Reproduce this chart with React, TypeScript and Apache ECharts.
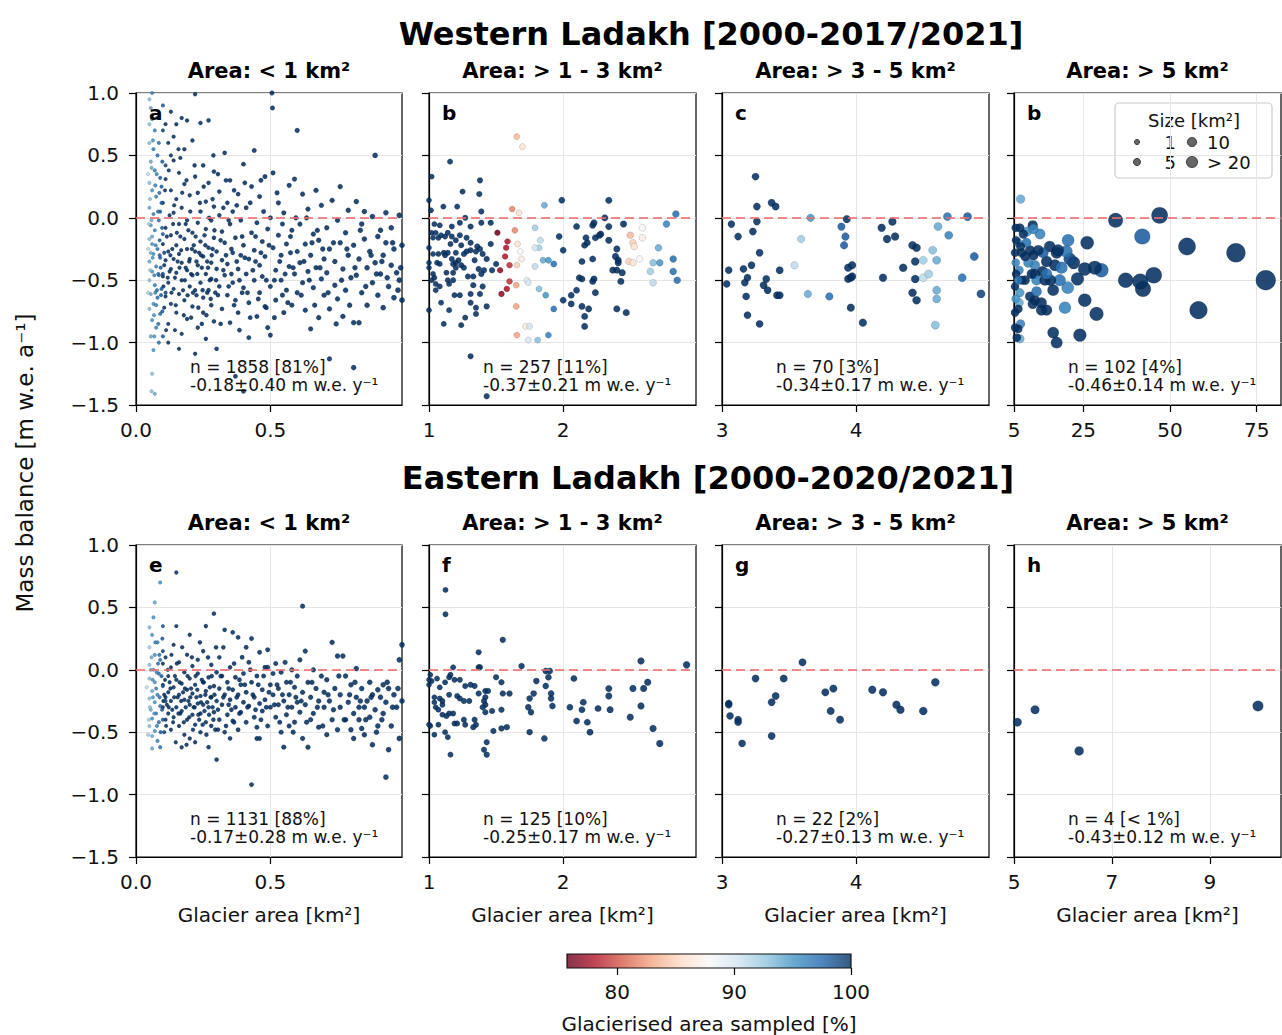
import React, { useEffect, useRef } from 'react';
import * as echarts from 'echarts';

const FONT = "'DejaVu Sans', sans-serif";

// ---------------- DATA ----------------
// Western Ladakh, < 1 km2 : fully sampled glaciers [area, mass balance]
const westSmallFull: number[][] = [
  [0.10,-0.21],[0.10,-0.47],[0.10,0.12],[0.11,-0.63],[0.11,-0.34],[0.11,0.31],[0.11,-0.08],[0.12,-0.52],[0.12,-0.27],[0.12,0.6],[0.12,-0.85],[0.13,-0.14],[0.13,-0.41],[0.13,0.22],[0.13,-0.69],[0.13,0.85],[0.14,-0.33],[0.14,0.04],[0.14,-0.57],[0.14,0.46],[0.15,-0.22],[0.15,-0.76],[0.15,0.75],[0.15,-0.44],[0.15,0.15],[0.16,-0.05],[0.16,-0.61],[0.16,0.36],[0.16,-0.29],[0.17,-0.5],[0.17,0.08],[0.17,-0.93],[0.17,0.8],[0.17,-0.36],[0.18,-0.17],[0.18,0.27],[0.18,-0.66],[0.18,0.55],[0.19,-0.42],[0.19,-0.02],[0.19,-0.81],[0.19,0.78],[0.19,-0.25],[0.2,0.18],[0.2,-0.55],
  [0.2,-0.33],[0.21,-0.12],[0.21,0.62],[0.21,-0.71],[0.21,-0.46],[0.22,0.33],[0.22,-0.27],[0.22,0.99],[0.22,-0.58],[0.22,-1.09],[0.23,-0.04],[0.23,-0.38],[0.23,0.2],[0.23,-0.88],[0.24,-0.52],[0.24,0.76],[0.24,-0.19],[0.24,0.05],[0.25,-0.64],[0.25,-0.31],[0.25,0.42],[0.25,-0.76],[0.26,-0.09],[0.26,-0.45],[0.26,0.13],[0.26,-0.97],[0.27,0.78],[0.27,-0.24],[0.27,-0.58],[0.27,0.28],[0.28,-0.36],[0.28,-0.02],[0.28,-0.7],[0.28,-0.49],[0.29,0.09],[0.29,-0.16],[0.29,-0.83],[0.29,0.37],[0.3,-0.41],[0.3,-1.05],
  [0.3,-0.27],[0.31,0.02],[0.31,-0.55],[0.31,0.21],[0.32,-0.34],[0.32,-0.73],[0.32,-0.11],[0.33,0.52],[0.33,-0.46],[0.33,-0.2],[0.34,0.12],[0.34,-0.62],[0.34,-0.37],[0.35,-0.05],[0.35,-0.84],[0.35,0.3],[0.36,-0.28],[0.36,-0.52],[0.36,0.05],[0.37,-0.66],[0.37,-1.27],[0.37,-0.16],[0.38,-0.41],[0.38,0.19],[0.38,-0.76],[0.39,-0.3],[0.39,-0.02],[0.4,0.43],[0.4,-0.56],[0.4,-1.39],[0.4,-0.22],
  [0.41,-0.45],[0.41,0.08],[0.42,-0.68],[0.42,-0.33],[0.42,-0.96],[0.43,-0.12],[0.43,0.25],[0.44,-0.5],[0.44,0.54],[0.44,-0.26],[0.45,-0.79],[0.45,-0.04],[0.46,-0.38],[0.46,0.17],[0.46,-0.6],[0.47,-0.19],[0.47,-0.47],[0.48,0.33],[0.48,-0.71],[0.48,-0.31],[0.49,-0.88],[0.49,-0.09],[0.5,-0.55],[0.5,-0.94],[0.5,0.0],
  [0.506,1.0],[0.508,0.88],[0.51,-0.24],[0.51,0.36],[0.52,-0.42],[0.52,-0.66],[0.53,-0.14],[0.53,0.12],[0.54,-0.5],[0.54,-0.3],[0.55,-0.76],[0.55,0.04],[0.56,-0.21],[0.56,-0.58],[0.57,0.26],[0.57,-0.39],[0.58,-0.1],[0.58,-0.7],[0.59,-0.45],[0.59,0.31],[0.6,0.7],[0.6,-0.27],[0.6,-0.6],
  [0.61,-0.05],[0.61,-0.36],[0.62,-0.52],[0.62,0.19],[0.63,-0.21],[0.63,-0.74],[0.64,-0.43],[0.64,0.07],[0.65,-0.89],[0.65,-0.3],[0.66,-0.13],[0.66,-0.56],[0.67,0.22],[0.67,-0.4],[0.68,-0.8],[0.68,-0.18],[0.69,-0.49],[0.69,0.1],[0.7,-0.33],[0.7,-0.62],
  [0.71,-0.08],[0.71,-0.44],[0.72,-0.73],[0.72,-1.13],[0.72,-0.25],[0.73,0.14],[0.74,-0.54],[0.74,-0.35],[0.75,-0.02],[0.75,-0.65],[0.76,-0.2],[0.76,0.25],[0.77,-0.79],[0.77,-0.41],[0.78,-0.12],[0.78,-0.58],[0.79,0.06],[0.79,-0.3],[0.8,-0.48],
  [0.81,-0.84],[0.81,-1.2],[0.81,-0.22],[0.82,0.13],[0.82,-0.46],[0.83,-0.84],[0.83,-0.33],[0.84,-0.05],[0.84,-0.6],[0.85,-0.17],[0.85,0.05],[0.86,-0.4],[0.86,-0.7],[0.87,-0.27],[0.88,-0.52],[0.88,0.01],[0.89,0.5],[0.89,-0.36],[0.9,-0.15],[0.9,-0.62],
  [0.91,-0.45],[0.91,-0.1],[0.92,-0.3],[0.92,-0.72],[0.93,-0.2],[0.93,0.04],[0.94,-0.55],[0.95,-0.38],[0.95,-0.08],[0.96,-0.64],[0.96,-0.25],[0.97,-0.44],[0.98,0.02],[0.98,-0.5],[0.99,-0.22],[0.99,-0.66],
  [0.105,-0.38],[0.115,-0.15],[0.125,-0.43],[0.135,-0.25],[0.145,-0.48],[0.155,-0.35],[0.165,-0.15],[0.175,-0.58],[0.185,-0.4],[0.195,-0.1],[0.205,-0.45],[0.215,-0.22],[0.225,-0.62],[0.235,-0.28],[0.245,-0.4],[0.255,-0.14],[0.265,-0.35],[0.275,-0.5],[0.285,-0.25],[0.295,-0.6],[0.105,-0.72],[0.125,0.02],[0.145,-0.9],[0.165,0.48],[0.185,-0.05],[0.205,-0.8],[0.225,-0.35],[0.245,-0.85],[0.265,-0.6],[0.285,0.15],
  [0.102,-0.55],[0.108,0.22],[0.112,-0.9],[0.118,-0.48],[0.122,0.38],[0.128,-0.3],[0.132,-0.6],[0.138,-0.05],[0.142,0.1],[0.148,-0.7],[0.152,-0.12],[0.158,0.55],[0.162,-0.4],[0.168,-0.26],[0.172,0.2],[0.178,-0.78],[0.182,-0.5],[0.188,0.3],[0.192,-0.62],[0.198,-0.35],
  [0.202,0.05],[0.208,-0.25],[0.212,-0.6],[0.218,0.42],[0.222,-0.15],[0.228,-0.45],[0.232,-0.72],[0.238,0.12],[0.242,-0.3],[0.248,-0.58],[0.252,0.25],[0.258,-0.22],[0.262,-0.78],[0.268,-0.4],[0.272,0.0],[0.278,-0.65],[0.282,-0.3],[0.288,0.5],[0.292,-0.1],[0.298,-0.5],
  [0.305,-0.62],[0.315,-0.18],[0.325,-0.42],[0.335,0.3],[0.345,-0.55],[0.355,-0.25],[0.365,-0.7],[0.375,0.1],[0.385,-0.5],[0.395,-0.15],[0.305,0.35],[0.315,-0.85],[0.325,0.08],[0.335,-0.3],[0.345,-0.02],[0.355,-0.45],[0.365,0.22],[0.375,-0.35],[0.385,-0.9],[0.395,-0.6],
  [0.405,-0.32],[0.415,-0.6],[0.425,0.12],[0.435,-0.42],[0.445,-0.15],[0.455,-0.65],[0.465,-0.28],[0.475,0.05],[0.485,-0.5],[0.495,-0.22],[0.405,0.28],[0.425,-0.8],[0.445,-0.35],[0.465,0.3],[0.485,-0.72],
  [0.515,-0.5],[0.525,0.2],[0.535,-0.35],[0.545,-0.05],[0.555,-0.45],[0.565,-0.68],[0.575,-0.15],[0.585,-0.4],[0.595,0.0],[0.515,-0.8],[0.545,-0.62],[0.575,-0.28],
  [0.615,-0.62],[0.625,-0.35],[0.635,0.0],[0.645,-0.5],[0.655,-0.2],[0.665,-0.7],[0.675,-0.1],[0.685,-0.4],[0.695,-0.25],
  [0.715,-0.6],[0.735,-0.2],[0.745,-0.85],[0.765,-0.5],[0.785,-0.25],[0.795,-0.7],
  [0.815,-0.4],[0.835,-0.1],[0.855,-0.55],[0.875,-0.3],[0.895,-0.45],
  [0.915,-0.35],[0.935,-0.48],[0.955,-0.2],[0.975,-0.58],[0.985,-0.4],
  [0.11,0.75],[0.13,0.5],[0.12,-1.0],[0.14,0.65],[0.16,-1.05]
];
// Western Ladakh, < 1 km2 : partially sampled glaciers [area, mass balance, % sampled]
const westSmallPartial: number[][] = [
  [0.05,0.95,93],[0.055,0.88,94],[0.06,0.79,95],[0.07,0.7,96],[0.05,0.6,93],[0.065,0.55,96],[0.08,0.5,97],[0.055,0.45,94],[0.07,0.38,96],[0.09,0.32,98],[0.05,0.28,93],[0.06,0.22,95],[0.075,0.17,96],[0.095,0.12,98],[0.05,0.08,94],[0.065,0.03,96],[0.085,-0.02,97],[0.055,-0.06,95],[0.07,-0.1,96],[0.1,-0.13,98],[0.05,-0.17,93],[0.06,-0.21,95],[0.08,-0.25,97],[0.065,-0.29,95],[0.09,-0.32,98],[0.05,-0.35,94],[0.075,-0.39,96],[0.06,-0.43,95],[0.085,-0.46,97],[0.05,-0.5,93],[0.07,-0.54,96],[0.095,-0.57,98],[0.055,-0.61,94],[0.08,-0.64,97],[0.065,-0.69,95],[0.05,-0.73,93],[0.09,-0.77,97],[0.06,-0.82,95],[0.075,-0.88,96],[0.055,-0.95,94],[0.085,-1.0,97],[0.065,-1.06,95],[0.06,-1.25,93],[0.058,-1.39,93],[0.07,-1.41,94],[0.06,1.0,96],[0.1,0.9,98],[0.045,0.35,91],[0.045,-0.25,91],[0.045,-0.6,92],[0.1,0.7,99],[0.11,0.42,99],[0.105,-0.28,99],[0.11,-0.6,99],[0.1,-0.95,98],[0.085,0.6,97],[0.09,0.05,98],[0.075,-0.7,96],[0.1,-0.45,99],[0.06,-0.15,94],
  [0.052,0.15,93],[0.058,-0.02,94],[0.062,-0.32,95],[0.068,-0.46,96],[0.072,0.26,96],[0.078,-0.58,97],[0.082,0.05,97],[0.088,-0.18,98],[0.092,-0.4,98],[0.098,0.45,98],[0.048,-0.05,92],[0.053,-0.42,93],[0.063,0.62,95],[0.067,-0.78,95],[0.073,-0.22,96],[0.077,0.35,96],[0.083,-0.85,97],[0.087,0.2,97],[0.093,-0.62,98],[0.097,-0.08,98],[0.05,0.75,93],[0.058,0.4,94],[0.068,-0.95,95],[0.078,0.8,96],[0.088,-0.3,98],[0.098,-0.75,98],[0.055,-0.28,94],[0.072,-0.6,96],[0.083,-0.45,97],[0.095,0.25,98]
];
// Western Ladakh, 1 - 3 km2 [area, mass balance, % sampled]
const westMid: number[][] = [
  [1.654,0.65,84],[1.697,0.57,86],[1.157,0.45,100],[1.02,0.33,100],[1.38,0.30,100],[1.25,0.21,100],[1.375,0.19,100],[1.107,0.09,100],[1.21,0.09,100],[1.015,0.06,100],[1.0,0.14,100],[1.39,0.05,100],[1.27,0.0,100],[1.46,-0.04,100],
  [1.62,0.07,82],[1.67,0.04,86],[1.64,-0.1,82],[1.51,-0.12,76],[1.585,-0.19,78],[1.575,-0.24,78],[1.567,-0.31,78],[1.6,-0.38,79],[1.53,-0.42,77],[1.66,-0.21,86],[1.68,-0.27,88],[1.69,-0.33,87],[1.655,-0.38,85],[1.6,-0.51,79],[1.58,-0.57,78],[1.54,-0.61,77],[1.65,-0.54,83],[1.65,-0.71,83],[1.655,-0.94,83],[1.72,-0.87,87],[1.75,-0.87,90],[1.74,-0.98,90],[1.81,-0.98,93],[1.89,-0.94,96],[1.86,0.1,94],[1.79,-0.08,92],[1.83,-0.18,91],[1.82,-0.24,92],[1.79,-0.24,90],[1.85,-0.34,94],[1.89,-0.34,95],[1.79,-0.39,91],[1.73,-0.5,89],[1.74,-0.52,90],[1.82,-0.57,93],[1.87,-0.62,95],[1.93,-0.73,97],[1.93,-0.37,97],
  [1.99,0.14,100],[1.97,-0.15,100],[2.0,-0.26,100],[2.1,-0.07,100],[2.16,-0.22,100],[2.18,-0.2,100],[2.22,-0.06,100],[2.23,-0.04,100],[2.17,-0.16,100],[2.24,-0.16,100],[2.28,-0.13,100],[2.27,-0.14,100],[2.31,0.0,100],[2.34,-0.07,100],[2.34,0.14,100],[2.14,-0.35,100],[2.22,-0.33,100],[2.12,-0.48,100],[2.14,-0.49,100],[2.23,-0.49,100],[2.22,-0.51,100],[2.24,-0.6,100],[2.1,-0.58,100],[2.06,-0.62,100],[2.0,-0.66,100],[2.14,-0.71,100],[2.06,-0.69,100],[2.19,-0.73,100],[2.16,-0.79,100],[2.16,-0.87,100],[2.34,-0.18,100],[2.39,-0.31,100],[2.41,-0.34,100],[2.41,-0.36,100],[2.37,-0.42,100],[2.4,-0.42,100],[2.44,-0.44,100],[2.43,-0.51,100],[2.4,-0.25,100],[2.45,-0.05,100],[2.4,-0.73,100],[2.47,-0.76,100],
  [2.5,-0.14,84],[2.52,-0.2,85],[2.53,-0.23,86],[2.59,-0.08,88],[2.59,-0.16,87],[2.49,-0.35,85],[2.52,-0.36,86],[2.57,-0.33,88],
  [2.65,-0.43,92],[2.67,-0.36,93],[2.67,-0.52,91],[2.71,-0.24,94],[2.72,-0.36,95],[2.77,-0.05,96],[2.82,-0.33,97],[2.82,-0.43,97],[2.85,-0.5,97],[2.84,0.03,97],
  [1.31,-1.11,100],[1.43,-1.43,100],
  [1.02,-0.12,100],[1.03,-0.16,100],[1.0,-0.24,100],[1.03,-0.29,100],[1.0,-0.36,100],[1.03,-0.45,100],[1.04,-0.48,100],[1.0,-0.74,100],[1.05,-0.53,100],[1.05,-0.58,100],[1.09,-0.68,100],[1.11,-0.85,100],[1.15,-0.74,100],[1.14,-0.5,100],[1.15,-0.53,100],[1.18,-0.5,100],[1.2,-0.36,100],[1.22,-0.34,100],[1.24,-0.38,100],[1.23,-0.62,100],[1.27,-0.8,100],[1.24,-0.86,100],[1.31,-0.61,100],[1.31,-0.68,100],[1.35,-0.72,100],[1.35,-0.77,100],[1.43,-0.71,100],[1.38,-0.61,100],[1.41,-0.42,100],[1.39,-0.45,100],[1.33,-0.47,100],[1.29,-0.47,100],[1.34,-0.34,100],[1.35,-0.27,100],[1.31,-0.2,100],[1.31,-0.26,100],[1.28,-0.27,100],[1.26,-0.29,100],[1.24,-0.22,100],[1.2,-0.28,100],[1.14,-0.28,100],[1.11,-0.28,100],[1.07,-0.29,100],[1.06,-0.36,100],[1.08,-0.37,100],[1.12,-0.3,100],[1.17,-0.33,100],[1.18,-0.37,100],[1.2,-0.4,100],[1.26,-0.4,100],[1.13,-0.44,100],[1.18,-0.44,100],[1.07,-0.16,100],[1.09,-0.14,100],[1.12,-0.15,100],[1.14,-0.12,100],[1.17,-0.07,100],[1.23,-0.04,100],[1.31,-0.07,100],[1.39,-0.04,100],[1.08,-0.06,100],[1.04,-0.05,100],[1.05,-0.12,100],[1.17,-0.15,100],[1.2,-0.18,100],[1.16,-0.21,100],[1.36,-0.23,100],[1.38,-0.25,100],[1.4,-0.29,100],[1.43,-0.33,100],[1.46,-0.21,100],[1.47,-0.42,100],[1.5,-0.37,100],[1.37,-0.41,100],[1.33,-0.54,100],[1.4,-0.55,100],[1.08,-0.55,100],[1.02,-0.5,100],[1.0,-0.4,100],[1.19,-0.62,100],[1.23,-0.14,100],[1.28,-0.16,100]
];
// Western Ladakh, 3 - 5 km2 [area, mass balance, % sampled]
const westLarge: number[][] = [
  [3.035,-0.53,100],[3.05,-0.42,100],[3.07,-0.05,100],[3.12,-0.15,100],[3.16,-0.41,100],[3.17,-0.52,100],[3.18,-0.63,100],[3.19,-0.48,100],[3.19,-0.78,100],[3.22,-0.38,100],[3.23,-0.11,100],[3.25,0.33,100],[3.26,-0.03,100],[3.26,0.09,100],[3.28,-0.28,100],[3.28,-0.85,100],[3.31,-0.54,100],[3.33,-0.49,100],[3.34,-0.58,100],[3.37,0.12,100],[3.4,0.09,100],[3.41,-0.62,100],[3.43,-0.62,100],[3.43,-0.42,100],
  [3.54,-0.38,91],[3.59,-0.17,92],[3.64,-0.61,94],[3.66,0.0,95],[3.8,-0.63,97],
  [3.89,-0.07,98],[3.92,-0.15,98],[3.91,-0.22,98],[3.93,-0.01,100],[3.94,-0.4,100],[3.94,-0.49,100],[3.96,-0.48,100],[3.97,-0.47,100],[3.97,-0.38,100],[3.96,-0.72,100],[4.05,-0.84,100],
  [4.19,-0.08,100],[4.23,-0.17,100],[4.27,-0.03,100],[4.29,-0.15,100],[4.2,-0.48,100],[4.35,-0.4,100],[4.42,-0.22,100],[4.45,-0.24,100],[4.44,-0.35,100],[4.44,-0.49,100],[4.42,-0.6,100],[4.45,-0.66,100],
  [4.5,-0.34,92],[4.5,-0.48,91],[4.54,-0.45,92],[4.57,-0.26,93],[4.6,-0.34,94],[4.61,-0.07,94],[4.6,-0.58,94],[4.6,-0.65,94],[4.59,-0.86,93],[4.68,0.01,97],[4.69,-0.14,96],[4.79,-0.48,97],[4.83,0.01,98],[4.88,-0.31,98],[4.93,-0.61,99]
];
// Western Ladakh, > 5 km2 [area, mass balance, % sampled]
const westHuge: number[][] = [
  [77.6,-0.5,100],[69,-0.28,100],[58.2,-0.74,100],[54.9,-0.23,100],[47,0.02,100],[45.3,-0.46,100],[42,-0.15,98],[42.2,-0.57,100],[41.4,-0.51,100],[37.2,-0.5,100],[34.3,-0.02,100],[28.8,-0.77,100],[30.2,-0.42,98],[28.3,-0.4,100],[26.1,-0.2,100],[25.4,-0.66,100],[24,-0.94,100],[25.4,-0.41,100],[23.3,-0.49,100],[22.2,-0.36,100],[21.1,-0.33,99],[20.6,-0.18,97],[20.1,-0.27,97],[19.7,-0.72,96],[20.5,-0.56,96],[18.2,-0.5,97],[17.3,-1.0,100],[16.3,-0.92,100],[16.3,-0.58,100],[15.5,-0.5,100],[16.8,-0.38,100],[15.3,-0.23,100],[17.3,-0.28,100],[14.4,-0.35,100],[13.2,-0.43,100],[13.4,-0.28,98],[14.4,-0.74,100],[12.9,-0.74,100],[11,-0.66,100],[10.4,-0.69,100],[10.4,-0.06,100],[12.5,-0.13,96],[11,-0.38,96],[11,-0.45,100],[10.6,-0.3,100],[9.6,-0.26,100],[9.1,-0.36,96],[8.6,-0.2,97],[8.2,-0.5,100],[9.6,-0.63,100],[8.8,-0.11,95],[7.7,-0.13,100],[6.9,0.15,94],[6.7,-0.08,100],[6.2,-0.2,95],[6.5,-0.42,96],[7.2,-0.5,100],[6.7,-0.6,95],[6.5,-0.68,94],[6.2,-0.73,100],[6.9,-0.85,96],[6.2,-0.89,100],[6.7,-0.97,94],[5.5,-0.08,100],[5.6,-0.18,100],[5.3,-0.28,100],[5.5,-0.36,96],[5.6,-0.45,100],[5.3,-0.55,100],[5.5,-0.65,95],[5.3,-0.76,100],[5.3,-0.88,100],[5.8,-0.96,100],[6.2,-0.5,97],[8.2,-0.31,100],[7.2,-0.28,100],[12,-0.26,100],[11.5,-0.5,96],[13.9,-0.5,100],[14.4,-0.45,97],[17.7,-0.26,100],[18.7,-0.4,97],[12.9,-0.68,100],[11.5,-0.59,97],[10.1,-0.45,100],[6.9,-0.23,100],[10.6,-0.09,96]
];
// Eastern Ladakh, < 1 km2 : fully sampled glaciers [area, mass balance]
const eastSmallFull: number[][] = [
  [0.1,-0.12],[0.1,-0.3],[0.1,0.05],[0.11,-0.22],[0.11,-0.4],[0.11,0.1],[0.12,-0.05],[0.12,-0.35],[0.12,-0.18],[0.13,0.02],[0.13,-0.48],[0.13,-0.25],[0.14,0.2],[0.14,-0.14],[0.14,-0.38],[0.15,0.78],[0.15,-0.08],[0.15,-0.3],[0.15,0.35],[0.16,-0.2],[0.16,-0.45],[0.16,0.06],[0.17,-0.62],[0.17,-0.11],[0.17,-0.33],[0.18,-0.02],[0.18,-0.24],[0.18,-0.52],[0.19,0.12],[0.19,-0.16],[0.19,-0.4],[0.2,-0.07],[0.2,-0.28],[0.2,-0.55],[0.2,0.28],
  [0.21,-0.19],[0.21,-0.36],[0.21,0.03],[0.22,-0.12],[0.22,-0.44],[0.22,-0.58],[0.23,-0.27],[0.23,0.08],[0.23,-0.03],[0.24,-0.21],[0.24,-0.35],[0.24,-0.5],[0.25,0.15],[0.25,-0.1],[0.25,-0.28],[0.26,-0.42],[0.26,-0.17],[0.26,0.35],[0.27,-0.06],[0.27,-0.3],[0.27,-0.62],[0.28,-0.22],[0.28,0.04],[0.28,-0.45],[0.29,0.45],[0.29,-0.13],[0.29,-0.34],[0.3,-0.02],[0.3,-0.25],[0.3,-0.72],
  [0.31,-0.15],[0.31,-0.4],[0.31,0.1],[0.32,-0.28],[0.32,-0.05],[0.33,-0.5],[0.33,-0.2],[0.33,0.32],[0.34,-0.1],[0.34,-0.36],[0.35,0.02],[0.35,-0.24],[0.35,-0.55],[0.36,-0.16],[0.36,0.3],[0.36,-0.41],[0.37,-0.3],[0.37,-0.06],[0.38,-0.2],[0.38,0.26],[0.38,-0.48],[0.39,-0.12],[0.39,-0.34],[0.4,-0.03],[0.4,-0.26],
  [0.41,-0.18],[0.41,-0.42],[0.42,0.06],[0.42,-0.29],[0.43,-0.92],[0.43,-0.1],[0.43,0.25],[0.44,-0.22],[0.44,-0.38],[0.45,-0.55],[0.45,-0.05],[0.46,-0.27],[0.46,0.14],[0.46,-0.55],[0.47,-0.16],[0.47,-0.33],[0.48,0.02],[0.48,-0.24],[0.49,-0.45],[0.49,0.16],[0.5,-0.12],[0.5,-0.3],
  [0.51,-0.03],[0.51,-0.2],[0.52,-0.38],[0.52,0.05],[0.53,-0.15],[0.53,-0.28],[0.54,-0.5],[0.54,-0.02],[0.55,-0.25],[0.55,-0.62],[0.56,-0.1],[0.56,-0.36],[0.57,-0.2],[0.57,-0.45],[0.58,0.0],[0.58,-0.3],[0.59,-0.14],[0.59,-0.42],[0.6,-0.05],[0.6,-0.26],
  [0.61,0.08],[0.61,-0.34],[0.62,0.51],[0.62,-0.18],[0.62,-0.55],[0.63,0.15],[0.63,-0.28],[0.64,-0.62],[0.64,-0.1],[0.65,-0.4],[0.65,-0.22],[0.66,0.0],[0.66,-0.35],[0.67,-0.15],[0.68,-0.46],[0.68,-0.25],[0.69,-0.05],[0.7,-0.3],[0.7,-0.18],
  [0.71,-0.52],[0.71,-0.08],[0.72,-0.25],[0.73,-0.4],[0.73,0.22],[0.74,-0.15],[0.75,-0.48],[0.75,0.11],[0.76,-0.3],[0.76,-0.2],[0.77,0.11],[0.78,-0.05],[0.78,-0.4],[0.79,-0.26],[0.8,-0.12],[0.8,-0.48],
  [0.81,-0.35],[0.81,-0.55],[0.82,0.01],[0.82,-0.22],[0.83,-0.4],[0.83,-0.3],[0.84,-0.15],[0.84,-0.47],[0.85,-0.3],[0.85,-0.52],[0.86,-0.25],[0.87,-0.1],[0.87,-0.38],[0.88,-0.2],[0.88,-0.6],[0.89,-0.32],[0.9,-0.16],[0.9,-0.45],
  [0.91,-0.22],[0.92,-0.35],[0.92,-0.12],[0.93,-0.86],[0.93,-0.26],[0.94,-0.64],[0.94,-0.15],[0.95,-0.45],[0.96,-0.2],[0.97,-0.3],[0.98,0.08],[0.98,-0.55],[0.99,0.2],[0.99,-0.25],
  [0.105,-0.2],[0.115,-0.28],[0.125,-0.1],[0.135,-0.32],[0.145,-0.05],[0.155,-0.22],[0.165,-0.35],[0.175,-0.18],[0.185,-0.3],[0.195,-0.25],[0.205,-0.15],[0.215,-0.3],[0.225,-0.22],[0.235,-0.4],[0.245,-0.08],[0.255,-0.33],[0.265,-0.26],[0.275,-0.14],[0.285,-0.3],[0.295,-0.48],
  [0.102,-0.25],[0.108,-0.08],[0.112,-0.45],[0.118,0.0],[0.122,-0.3],[0.128,-0.15],[0.132,0.12],[0.138,-0.42],[0.142,-0.22],[0.148,-0.58],[0.152,0.05],[0.158,-0.35],[0.162,-0.1],[0.168,-0.25],[0.172,0.18],[0.178,-0.42],[0.182,-0.15],[0.188,-0.6],[0.192,-0.05],[0.198,-0.38],
  [0.202,-0.22],[0.208,0.1],[0.212,-0.48],[0.218,-0.3],[0.222,-0.05],[0.228,-0.16],[0.232,-0.36],[0.238,0.22],[0.242,-0.26],[0.248,-0.44],[0.252,-0.1],[0.258,-0.2],[0.262,-0.52],[0.268,0.1],[0.272,-0.36],[0.278,-0.22],[0.282,-0.05],[0.288,-0.4],[0.292,-0.2],[0.298,0.18],
  [0.305,-0.32],[0.315,-0.05],[0.325,-0.22],[0.335,-0.45],[0.345,-0.15],[0.355,-0.32],[0.365,0.05],[0.375,-0.22],[0.385,-0.35],[0.395,0.1],[0.305,-0.48],[0.325,0.18],[0.345,-0.28],[0.365,-0.42],[0.385,-0.08],
  [0.405,-0.12],[0.415,-0.3],[0.425,0.0],[0.435,-0.2],[0.445,-0.32],[0.455,-0.12],[0.465,-0.4],[0.475,-0.05],[0.485,-0.3],[0.495,-0.18],[0.41,0.18],[0.45,-0.46],[0.49,0.02],
  [0.515,-0.28],[0.525,-0.12],[0.535,-0.42],[0.545,-0.2],[0.555,0.06],[0.565,-0.3],[0.575,-0.1],[0.585,-0.5],[0.595,-0.22],
  [0.615,-0.25],[0.635,-0.42],[0.655,-0.1],[0.675,-0.3],[0.695,-0.45],[0.715,-0.2],[0.735,-0.32],[0.755,-0.05],[0.775,-0.4],[0.795,-0.2],
  [0.815,-0.1],[0.835,-0.25],[0.855,-0.4],[0.875,-0.22],[0.895,-0.5],[0.915,-0.4],[0.935,-0.1],[0.955,-0.3],[0.975,-0.15]
];
// Eastern Ladakh, < 1 km2 : partially sampled glaciers [area, mass balance, % sampled]
const eastSmallPartial: number[][] = [
  [0.09,0.7,95],[0.07,0.54,94],[0.05,0.34,93],[0.06,0.28,95],[0.08,0.22,96],[0.05,0.18,92],[0.07,0.12,95],[0.09,0.08,97],[0.05,0.04,93],[0.065,0.0,95],[0.085,-0.03,97],[0.05,-0.07,93],[0.07,-0.1,95],[0.1,-0.13,98],[0.04,-0.14,91],[0.06,-0.17,94],[0.08,-0.2,96],[0.05,-0.23,93],[0.07,-0.26,95],[0.09,-0.29,97],[0.055,-0.32,94],[0.075,-0.35,96],[0.06,-0.39,95],[0.085,-0.42,97],[0.05,-0.45,93],[0.07,-0.49,95],[0.06,-0.53,94],[0.045,-0.52,92],[0.08,-0.57,96],[0.06,-0.63,94],[0.09,-0.62,97],[0.1,0.35,98],[0.065,0.42,95],[0.1,-0.4,98],[0.095,-0.05,98],[0.075,-0.15,96],[0.055,-0.0,94],[0.1,0.15,99],[0.11,-0.25,99],[0.105,-0.5,99],
  [0.052,-0.3,93],[0.058,0.1,94],[0.062,-0.08,95],[0.068,-0.35,95],[0.072,0.22,96],[0.078,-0.45,96],[0.082,0.05,97],[0.088,-0.22,97],[0.092,-0.5,98],[0.098,0.25,98],[0.048,-0.4,92],[0.063,-0.22,95],[0.077,-0.02,96],[0.087,0.12,97],[0.097,-0.32,98]
];
// Eastern Ladakh, 1 - 3 km2 [area, mass balance]
const eastMid: number[][] = [
  [1.123,0.64],[1.123,0.445],[1.55,0.24],[1.37,0.14],[1.37,0.02],[1.38,0.02],[1.18,0.02],[1.69,0.03],[1.87,-0.01],[1.9,-0.01],[2.58,0.07],[2.92,0.04],
  [2.08,-0.07],[1.8,-0.09],[1.89,-0.06],[1.87,-0.13],[1.91,-0.19],[1.91,-0.23],[1.92,-0.29],[1.78,-0.19],[1.75,-0.23],[1.74,-0.3],[1.76,-0.34],[1.6,-0.19],[1.55,-0.19],[1.54,-0.1],[1.5,-0.06],[1.54,-0.32],[1.47,-0.33],[1.54,-0.47],[1.58,-0.46],[1.48,-0.49],[1.75,-0.5],[1.86,-0.55],[1.43,-0.58],[1.41,-0.64],[1.43,-0.68],[1.16,-0.68],[1.14,-0.54],[1.12,-0.5],[1.04,-0.52],[1.01,-0.45],[1.05,-0.3],[1.07,-0.32],
  [2.05,-0.3],[2.15,-0.26],[2.14,-0.32],[2.26,-0.31],[2.1,-0.41],[2.18,-0.42],[2.2,-0.5],[2.34,-0.15],[2.34,-0.21],[2.35,-0.32],[2.52,-0.15],[2.6,-0.15],[2.63,-0.1],[2.58,-0.29],[2.5,-0.38],[2.67,-0.47],[2.72,-0.59],
  [1.01,-0.04],[1.02,-0.09],[1.06,-0.07],[1.08,-0.14],[1.12,-0.1],[1.15,-0.06],[1.16,-0.04],[1.19,-0.08],[1.23,-0.08],[1.27,-0.13],[1.31,-0.12],[1.34,-0.13],[1.04,-0.22],[1.08,-0.23],[1.1,-0.25],[1.1,-0.28],[1.04,-0.26],[1.15,-0.2],[1.21,-0.21],[1.23,-0.23],[1.26,-0.25],[1.3,-0.25],[1.37,-0.19],[1.42,-0.17],[1.44,-0.17],[1.42,-0.22],[1.41,-0.25],[1.42,-0.28],[1.4,-0.3],[1.42,-0.34],[1.1,-0.36],[1.15,-0.35],[1.18,-0.35],[1.13,-0.37],[1.19,-0.43],[1.21,-0.43],[1.26,-0.4],[1.34,-0.4],[1.35,-0.44],[1.33,-0.46],[1.27,-0.44],[1.07,-0.44],[1.0,-0.44],[1.0,-0.12],[1.0,-0.08]
];
// Eastern Ladakh, 3 - 5 km2 [area, mass balance]
const eastLarge: number[][] = [
  [3.05,-0.27],[3.05,-0.28],[3.06,-0.37],[3.12,-0.4],[3.12,-0.42],[3.15,-0.59],[3.25,-0.07],[3.37,-0.26],[3.4,-0.21],[3.37,-0.53],[3.46,-0.07],[3.6,0.06],[3.77,-0.18],[3.83,-0.15],[3.81,-0.33],[3.88,-0.4],[4.12,-0.16],[4.2,-0.18],[4.3,-0.28],[4.33,-0.32],[4.5,-0.33],[4.59,-0.1]
];
// Eastern Ladakh, > 5 km2 [area, mass balance]
const eastHuge: number[][] = [
  [5.07,-0.42],[5.43,-0.32],[6.33,-0.65],[9.98,-0.29]
];

// Texts & ticks
const rowTitles = ['Western Ladakh [2000-2017/2021]', 'Eastern Ladakh [2000-2020/2021]'];
const colTitles = ['Area: < 1 km²', 'Area: > 1 - 3 km²', 'Area: > 3 - 5 km²', 'Area: > 5 km²'];
const panelLetters = ['a', 'b', 'c', 'b', 'e', 'f', 'g', 'h'];
const panelCounts = ['n = 1858 [81%]', 'n = 257 [11%]', 'n = 70 [3%]', 'n = 102 [4%]', 'n = 1131 [88%]', 'n = 125 [10%]', 'n = 22 [2%]', 'n = 4 [< 1%]'];
const panelMeans = ['-0.18±0.40', '-0.37±0.21', '-0.34±0.17', '-0.46±0.14', '-0.17±0.28', '-0.25±0.17', '-0.27±0.13', '-0.43±0.12'];
const xMin = [0, 1, 3, 5, 0, 1, 3, 5];
const xMax = [0.99, 2.99, 4.99, 82, 0.99, 2.99, 4.99, 10.45];
const xTicks = [[0, 0.5], [1, 2], [3, 4], [5, 25, 50, 75], [0, 0.5], [1, 2], [3, 4], [5, 7, 9]];
const yMin = -1.5, yMax = 1.0, yStep = 0.5;
const cbMin = 75.7, cbMax = 100;
const cbTicks = [80, 90, 100];
const legendSizes = ['1', '5', '10', '> 20'];
const RDBU = ['#67001f', '#b2182b', '#d6604d', '#f4a582', '#fddbc7', '#f7f7f7', '#d1e5f0', '#92c5de', '#4393c3', '#2166ac', '#053061'];

// ---------------- LAYOUT ----------------
const LEFTS = [136, 429, 722, 1014];
const WIDTHS = [266, 267, 267, 267];
const TOPS = [93, 545];
const H = 312;

function rgba(hex: string, a: number) {
  const r = parseInt(hex.slice(1, 3), 16), g = parseInt(hex.slice(3, 5), 16), b = parseInt(hex.slice(5, 7), 16);
  return `rgba(${r},${g},${b},${a})`;
}
const withPct = (arr: number[][]) => arr.map((p) => [p[0], p[1], p.length > 2 ? p[2] : 100]);

export default function App() {
  const ref = useRef<HTMLDivElement>(null);
  useEffect(() => {
    if (!ref.current) return;
    const chart = echarts.init(ref.current, undefined, { renderer: 'svg' });

    const panelData = [
      [...withPct(westSmallFull), ...withPct(westSmallPartial)],
      withPct(westMid),
      withPct(westLarge),
      withPct(westHuge),
      [...withPct(eastSmallFull), ...withPct(eastSmallPartial)],
      withPct(eastMid),
      withPct(eastLarge),
      withPct(eastHuge),
    ];

    const grids: any[] = [];
    const xAxes: any[] = [];
    const yAxes: any[] = [];
    const series: any[] = [];
    const graphics: any[] = [];
    const axisTxt = { fontFamily: FONT, fontSize: 20, color: '#111' };

    for (let i = 0; i < 8; i++) {
      const r = i < 4 ? 0 : 1;
      const c = i % 4;
      grids.push({
        left: LEFTS[c], top: TOPS[r], width: WIDTHS[c], height: H,
        show: true, borderColor: '#000', borderWidth: 1.2, backgroundColor: 'transparent',
        containLabel: false, outerBoundsMode: 'none',
      });
      xAxes.push({
        gridIndex: i, type: 'value', min: xMin[i], max: xMax[i],
        axisLine: { show: true, onZero: false, lineStyle: { color: '#000', width: 1.2 } },
        axisTick: { show: true, customValues: xTicks[i], length: 7, lineStyle: { color: '#000', width: 1.2 } },
        axisLabel: {
          customValues: xTicks[i], margin: 15, ...axisTxt,
          formatter: (v: number) => (xTicks[i][1] < 1 ? v.toFixed(1) : String(v)),
        },
        splitLine: { show: true, lineStyle: { color: '#e6e6e6', width: 1 } },
        name: r === 1 ? 'Glacier area [km²]' : '',
        nameLocation: 'middle', nameGap: 48,
        nameTextStyle: { fontFamily: FONT, fontSize: 20, color: '#111' },
      });
      yAxes.push({
        gridIndex: i, type: 'value', min: yMin, max: yMax, interval: yStep,
        axisLine: { show: true, onZero: false, lineStyle: { color: '#000', width: 1.2 } },
        axisTick: { show: true, length: 7, lineStyle: { color: '#000', width: 1.2 } },
        axisLabel: {
          show: c === 0, margin: 17, ...axisTxt,
          formatter: (v: number) => (v < 0 ? '−' : '') + Math.abs(v).toFixed(1),
        },
        splitLine: { show: true, lineStyle: { color: '#e6e6e6', width: 1 } },
      });
      series.push({
        type: 'scatter', xAxisIndex: i, yAxisIndex: i,
        data: panelData[i],
        symbolSize: (v: number[]) => (i === 3 ? 4 + 1.8 * Math.sqrt(v[0]) : 3 + 2.4 * Math.sqrt(v[0])),
        itemStyle: { opacity: 0.88, borderColor: 'rgba(0,0,0,0.22)', borderWidth: 0.7 },
        silent: true,
        markLine: {
          silent: true, symbol: ['none', 'none'], label: { show: false },
          lineStyle: { color: 'rgba(238,110,110,0.8)', width: 2, type: [9, 5] },
          data: [{ yAxis: 0 }],
        },
      });

      // panel letter
      graphics.push({
        type: 'text', x: LEFTS[c] + 13, y: TOPS[r] + 20, z: 100,
        style: { text: panelLetters[i], font: `bold 20px ${FONT}`, fill: '#000', textAlign: 'left', textVerticalAlign: 'middle' },
      });
      // stats
      graphics.push({
        type: 'text', x: LEFTS[c] + 54, y: TOPS[r] + H - 38, z: 100,
        style: { text: panelCounts[i], font: `17px ${FONT}`, fill: '#111', textAlign: 'left', textVerticalAlign: 'middle' },
      });
      graphics.push({
        type: 'text', x: LEFTS[c] + 54, y: TOPS[r] + H - 20, z: 100,
        style: { text: panelMeans[i] + ' m w.e. y⁻¹', font: `17px ${FONT}`, fill: '#111', textAlign: 'left', textVerticalAlign: 'middle' },
      });
      // column titles
      graphics.push({
        type: 'text', x: LEFTS[c] + WIDTHS[c] / 2, y: TOPS[r] - 22, z: 100,
        style: { text: colTitles[c], font: `bold 21px ${FONT}`, fill: '#000', textAlign: 'center', textVerticalAlign: 'middle' },
      });
    }

    // row titles
    graphics.push({
      type: 'text', x: 711, y: 34, z: 100,
      style: { text: rowTitles[0], font: `bold 32px ${FONT}`, fill: '#000', textAlign: 'center', textVerticalAlign: 'middle' },
    });
    graphics.push({
      type: 'text', x: 708, y: 478, z: 100,
      style: { text: rowTitles[1], font: `bold 32px ${FONT}`, fill: '#000', textAlign: 'center', textVerticalAlign: 'middle' },
    });
    // y-axis label
    graphics.push({
      type: 'text', x: 25, y: 463, rotation: Math.PI / 2, z: 100,
      style: { text: 'Mass balance [m w.e. a⁻¹]', font: `23px ${FONT}`, fill: '#111', textAlign: 'center', textVerticalAlign: 'middle' },
    });
    // size legend (panel d)
    const lgX = 1115, lgY = 103;
    const legendChildren: any[] = [
      { type: 'rect', shape: { x: lgX, y: lgY, width: 157, height: 75, r: 4 }, style: { fill: 'rgba(255,255,255,0.85)', stroke: '#cccccc', lineWidth: 1.2 } },
      { type: 'text', x: lgX + 79, y: lgY + 17, style: { text: 'Size [km²]', font: `18px ${FONT}`, fill: '#111', textAlign: 'center', textVerticalAlign: 'middle' } },
    ];
    const lgRadius = [2.6, 3.6, 4.6, 5.6];
    const lgPos = [[0, 0], [0, 1], [1, 0], [1, 1]];
    legendSizes.forEach((s, k) => {
      const [col, row] = lgPos[k];
      const cx = lgX + 22 + col * 55;
      const cy = lgY + 39 + row * 20;
      legendChildren.push({ type: 'circle', shape: { cx, cy, r: lgRadius[k] }, style: { fill: 'rgba(50,50,50,0.75)', stroke: 'rgba(0,0,0,0.6)', lineWidth: 1 } });
      legendChildren.push({
        type: 'text', x: col === 0 ? cx + 39 : cx + 15, y: cy,
        style: { text: s, font: `18px ${FONT}`, fill: '#111', textAlign: col === 0 ? 'right' : 'left', textVerticalAlign: 'middle' },
      });
    });
    graphics.push({ type: 'group', z: 100, children: legendChildren });

    // colorbar (grid 8)
    const cbStops = RDBU.map((col, k) => ({ offset: k / (RDBU.length - 1), color: rgba(col, 0.8) }));
    grids.push({
      left: 567, top: 954, width: 284, height: 14, show: true,
      borderColor: '#111', borderWidth: 1.2,
      backgroundColor: new echarts.graphic.LinearGradient(0, 0, 1, 0, cbStops),
      containLabel: false, outerBoundsMode: 'none',
    });
    xAxes.push({
      gridIndex: 8, type: 'value', min: cbMin, max: cbMax, position: 'bottom',
      axisLine: { show: false, onZero: false },
      axisTick: { show: true, customValues: cbTicks, length: 7, lineStyle: { color: '#000', width: 1.2 } },
      axisLabel: { customValues: cbTicks, margin: 14, ...axisTxt },
      splitLine: { show: false },
      name: 'Glacierised area sampled [%]', nameLocation: 'middle', nameGap: 46,
      nameTextStyle: { fontFamily: FONT, fontSize: 20, color: '#111' },
    });
    yAxes.push({ gridIndex: 8, type: 'value', min: 0, max: 1, show: false });

    chart.setOption({
      animation: false,
      backgroundColor: '#fff',
      textStyle: { fontFamily: FONT },
      grid: grids,
      xAxis: xAxes,
      yAxis: yAxes,
      visualMap: {
        type: 'continuous', show: false, min: cbMin, max: cbMax, dimension: 2,
        seriesIndex: [0, 1, 2, 3, 4, 5, 6, 7],
        inRange: { color: RDBU },
      },
      series,
      graphic: { elements: graphics },
    });
    return () => chart.dispose();
  }, []);

  return (
    <div
      ref={ref}
      style={{ position: 'fixed', left: 0, top: 0, width: 1282, height: 1035, background: '#fff' }}
    />
  );
}
